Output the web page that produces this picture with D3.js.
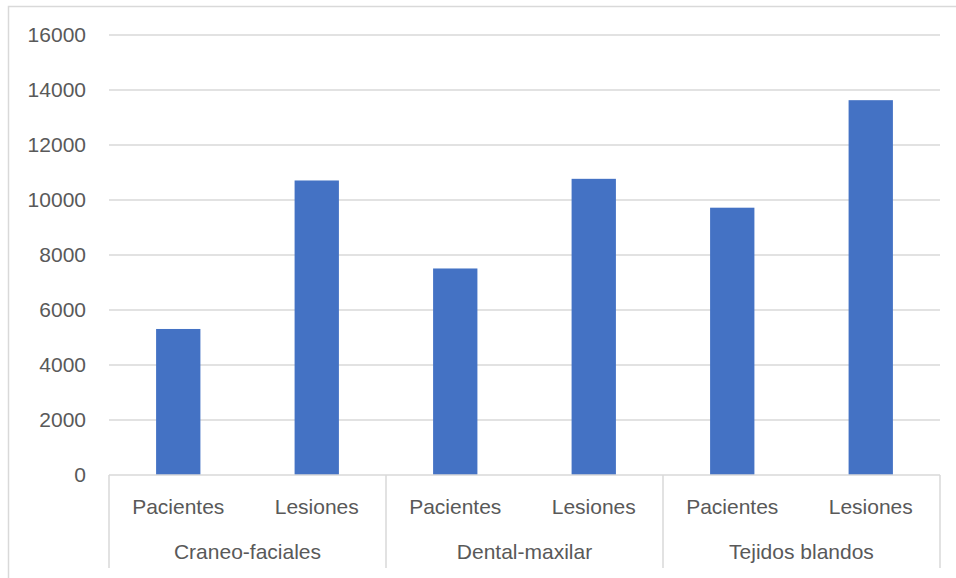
<!DOCTYPE html>
<html><head><meta charset="utf-8">
<script src="https://cdn.jsdelivr.net/npm/d3@7"></script>
<style>body{margin:0;background:#fff}svg{display:block}</style>
</head><body>
<script>
const groups = ["Craneo-faciales", "Dental-maxilar", "Tejidos blandos"];
const subcats = ["Pacientes", "Lesiones"];
const values = [5310, 10710, 7510, 10770, 9720, 13630];
const yTicks = [0, 2000, 4000, 6000, 8000, 10000, 12000, 14000, 16000];

(function () {
const W = 956, H = 578;
const svg = d3.select("body").append("svg").attr("width", W).attr("height", H);
const font = "'Liberation Sans', Arial, sans-serif";
const txt = "#595959", grid = "#d9d9d9";

// outer border
svg.append("rect").attr("x", 8.5).attr("y", 6.5).attr("width", 960).attr("height", 600)
  .attr("fill", "none").attr("stroke", grid).attr("stroke-width", 1.5);

const pL = 109, pR = 940, pT = 35, pB = 475;
const rows = [];
groups.forEach((g, i) => subcats.forEach((s, j) => rows.push({g, s, key: g + "|" + s, v: values[i * 2 + j]})));

const x = d3.scaleBand().domain(rows.map(d => d.key)).range([pL, pR]).paddingInner(0.68).paddingOuter(0.34);
const y = d3.scaleLinear().domain([0, 16000]).range([pB, pT]);

// gridlines
svg.append("g").selectAll("line").data(yTicks.filter(t => t > 0)).join("line")
  .attr("x1", pL).attr("x2", pR).attr("y1", d => y(d)).attr("y2", d => y(d))
  .attr("stroke", grid).attr("stroke-width", 1.5);

// y axis labels
const yAxis = d3.axisLeft(y).tickValues(yTicks).tickSize(0).tickPadding(23).tickFormat(d3.format("d"));
const ya = svg.append("g").attr("transform", `translate(${pL},0)`).call(yAxis);
ya.select(".domain").remove();
ya.selectAll("text").attr("fill", txt).style("font-family", font).style("font-size", "21px");

// bars
svg.append("g").selectAll("rect").data(rows).join("rect")
  .attr("x", d => x(d.key)).attr("width", x.bandwidth())
  .attr("y", d => y(d.v)).attr("height", d => y(0) - y(d.v))
  .attr("fill", "#4472c4");

// x axis baseline
svg.append("line").attr("x1", pL).attr("x2", pR).attr("y1", pB).attr("y2", pB)
  .attr("stroke", grid).attr("stroke-width", 1.5);

// group separators
const gx = d3.scaleLinear().domain([0, groups.length]).range([pL, pR]);
svg.append("g").selectAll("line").data(d3.range(groups.length + 1)).join("line")
  .attr("x1", d => gx(d)).attr("x2", d => gx(d)).attr("y1", pB).attr("y2", 568)
  .attr("stroke", grid).attr("stroke-width", 1.5);

// sub-category labels
svg.append("g").selectAll("text").data(rows).join("text")
  .attr("x", d => x(d.key) + x.bandwidth() / 2).attr("y", 514)
  .attr("text-anchor", "middle").attr("fill", txt)
  .style("font-family", font).style("font-size", "21px").text(d => d.s);

// group labels
svg.append("g").selectAll("text").data(groups).join("text")
  .attr("x", (d, i) => (gx(i) + gx(i + 1)) / 2).attr("y", 559)
  .attr("text-anchor", "middle").attr("fill", txt)
  .style("font-family", font).style("font-size", "21px").text(d => d);
})();
</script>
</body></html>
